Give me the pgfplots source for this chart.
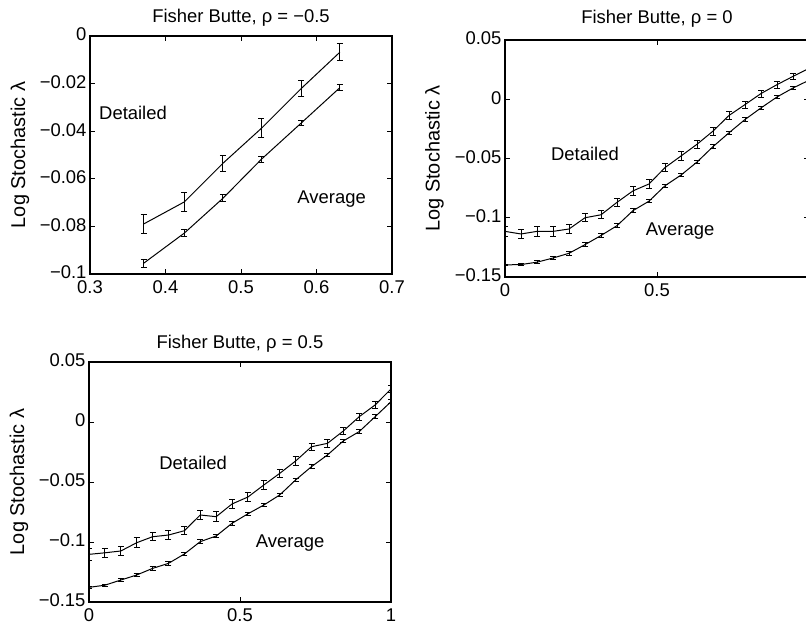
\documentclass[border=0pt]{standalone}
\usepackage{fontspec}
\setmainfont{Liberation Sans}
\usepackage{pgfplots}
\pgfplotsset{compat=1.18}
\usepackage{pgfplotstable}

\pgfplotstableread{
x y e
0.371 -0.0790 0.0040
0.425 -0.0697 0.0040
0.476 -0.0535 0.0035
0.527 -0.0388 0.0040
0.580 -0.0220 0.0035
0.631 -0.0068 0.0035
}\tlDet
\pgfplotstableread{
x y e
0.371 -0.0955 0.0017
0.425 -0.0828 0.0015
0.476 -0.0682 0.0015
0.527 -0.0518 0.0013
0.580 -0.0365 0.0012
0.631 -0.0217 0.0012
}\tlAvg

\pgfplotstableread{
x y e
0.0000 -0.1115 0.0040
0.0526 -0.1137 0.0040
0.1053 -0.1115 0.0040
0.1579 -0.1115 0.0040
0.2105 -0.1095 0.0040
0.2632 -0.1000 0.0035
0.3158 -0.0975 0.0035
0.3684 -0.0870 0.0035
0.4211 -0.0773 0.0035
0.4737 -0.0715 0.0035
0.5263 -0.0577 0.0035
0.5789 -0.0479 0.0035
0.6316 -0.0380 0.0035
0.6842 -0.0269 0.0035
0.7368 -0.0137 0.0035
0.7895 -0.0045 0.0030
0.8421  0.0048 0.0030
0.8947  0.0123 0.0030
0.9474  0.0193 0.0025
1.0000  0.0260 0.0025
}\trDet
\pgfplotstableread{
x y e
0.0000 -0.1398 0.0008
0.0526 -0.1395 0.0010
0.1053 -0.1375 0.0012
0.1579 -0.1340 0.0012
0.2105 -0.1300 0.0015
0.2632 -0.1227 0.0015
0.3158 -0.1150 0.0015
0.3684 -0.1067 0.0015
0.4211 -0.0940 0.0015
0.4737 -0.0860 0.0015
0.5263 -0.0730 0.0015
0.5789 -0.0640 0.0015
0.6316 -0.0530 0.0015
0.6842 -0.0400 0.0015
0.7368 -0.0283 0.0015
0.7895 -0.0171 0.0015
0.8421 -0.0073 0.0015
0.8947  0.0019 0.0012
0.9474  0.0095 0.0012
1.0000  0.0160 0.0012
}\trAvg

\pgfplotstableread{
x y e
0.0000 -0.1103 0.0050
0.0526 -0.1090 0.0040
0.1053 -0.1075 0.0040
0.1579 -0.1006 0.0040
0.2105 -0.0956 0.0035
0.2632 -0.0942 0.0040
0.3158 -0.0906 0.0035
0.3684 -0.0775 0.0040
0.4211 -0.0789 0.0040
0.4737 -0.0683 0.0035
0.5263 -0.0625 0.0035
0.5789 -0.0525 0.0035
0.6316 -0.0428 0.0035
0.6842 -0.0325 0.0035
0.7368 -0.0206 0.0030
0.7895 -0.0178 0.0030
0.8421 -0.0075 0.0030
0.8947  0.0044 0.0030
0.9474  0.0142 0.0030
1.0000  0.0275 0.0030
}\blDet
\pgfplotstableread{
x y e
0.0000 -0.1378 0.0008
0.0526 -0.1360 0.0010
0.1053 -0.1317 0.0012
0.1579 -0.1275 0.0012
0.2105 -0.1220 0.0015
0.2632 -0.1178 0.0015
0.3158 -0.1100 0.0015
0.3684 -0.0997 0.0015
0.4211 -0.0950 0.0015
0.4737 -0.0844 0.0015
0.5263 -0.0765 0.0015
0.5789 -0.0692 0.0015
0.6316 -0.0608 0.0015
0.6842 -0.0483 0.0015
0.7368 -0.0372 0.0015
0.7895 -0.0275 0.0015
0.8421 -0.0158 0.0015
0.8947 -0.0080 0.0015
0.9474  0.0044 0.0015
1.0000  0.0169 0.0015
}\blAvg

\pgfplotsset{
  fb/.style={
    scale only axis,
    anchor=south west,
    font=\fontsize{18.5}{22}\selectfont,
    /pgf/number format/assume math mode=true,
    tick align=inside,
    major tick length=5bp,
    axis line style={line width=1.1pt},
    every tick/.style={black, line width=0.8pt},
    scaled ticks=false,
    ylabel={Log Stochastic λ},
    ylabel style={at={(axis description cs:-0.232,0.5)}, anchor=center, font=\fontsize{20}{24}\selectfont},
    xticklabel style={yshift=-3.5bp},
    yticklabel style={yshift=1.5bp},
    title style={yshift=0bp},
  },
  fbline/.style={
    black, line width=1pt, mark=none,
    error bars/.cd, y dir=both, y explicit,
    error bar style={line width=0.9pt},
    error mark options={rotate=90, mark size=3pt, line width=0.9pt},
  },
}

\begin{document}
\begin{tikzpicture}
% top left
\begin{axis}[fb,
  at={(90bp,352bp)}, width=302bp, height=238bp,
  xmin=0.3, xmax=0.7, ymin=-0.1, ymax=0,
  xtick={0.3,0.4,0.5,0.6,0.7},
  xticklabels={0.3,0.4,0.5,0.6,0.7},
  ytick={-0.1,-0.08,-0.06,-0.04,-0.02,0},
  yticklabels={−0.1,−0.08,−0.06,−0.04,−0.02,0},
  title={Fisher Butte, ρ = −0.5},
]
\addplot[fbline] table[x=x,y=y,y error=e]{\tlDet};
\addplot[fbline] table[x=x,y=y,y error=e]{\tlAvg};
\node at (axis cs:0.357,-0.0324) {Detailed};
\node at (axis cs:0.620,-0.0685) {Average};
\end{axis}
% top right
\begin{axis}[fb,
  at={(505bp,349bp)}, width=304bp, height=237bp,
  xmin=0, xmax=1, ymin=-0.15, ymax=0.05,
  xtick={0,0.5,1},
  xticklabels={0,0.5,{}},
  ytick={-0.15,-0.1,-0.05,0,0.05},
  yticklabels={−0.15,−0.1,−0.05,0,0.05},
  title={Fisher Butte, ρ = 0},
  title style={yshift=3bp},
]
\addplot[fbline] table[x=x,y=y,y error=e]{\trDet};
\addplot[fbline] table[x=x,y=y,y error=e]{\trAvg};
\node at (axis cs:0.263,-0.0465) {Detailed};
\node at (axis cs:0.576,-0.111) {Average};
\end{axis}
% bottom left
\begin{axis}[fb,
  at={(89bp,24bp)}, width=302bp, height=240bp,
  xmin=0, xmax=1, ymin=-0.15, ymax=0.05,
  xtick={0,0.5,1},
  xticklabels={0,0.5,1},
  ytick={-0.15,-0.1,-0.05,0,0.05},
  yticklabels={−0.15,−0.1,−0.05,0,0.05},
  title={Fisher Butte, ρ = 0.5},
]
\addplot[fbline] table[x=x,y=y,y error=e]{\blDet};
\addplot[fbline] table[x=x,y=y,y error=e]{\blAvg};
\node at (axis cs:0.345,-0.0344) {Detailed};
\node at (axis cs:0.666,-0.1006) {Average};
\end{axis}
\pgfresetboundingbox
\useasboundingbox (0,0) rectangle (806bp,626bp);
\end{tikzpicture}
\end{document}
